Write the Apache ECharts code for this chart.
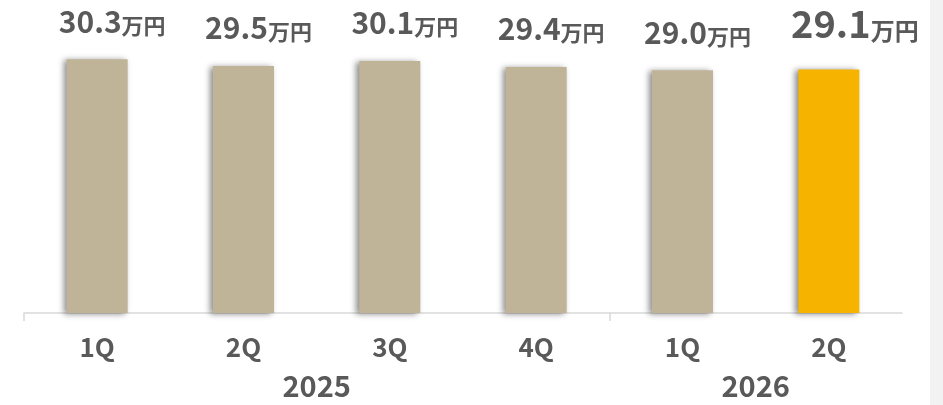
<!DOCTYPE html>
<html>
<head>
<meta charset="utf-8">
<script src="https://cdn.jsdelivr.net/npm/echarts@6/dist/echarts.min.js"></script>
<style>
  html, body { margin: 0; padding: 0; background: #fff; }
  #mainChart { width: 943px; height: 405px; }
</style>
</head>
<body>
<div id="mainChart"></div>
<script type="text/javascript">
// 四半期ごとの値（万円）
var categories = ['1Q', '2Q', '3Q', '4Q', '1Q', '2Q'];
var values = [30.3, 29.5, 30.1, 29.4, 29.0, 29.1];
var years = ['2025', '2026'];
var yearSpans = [4, 2];   // 各年の四半期数
var unit = '万円';
var highlightIndex = 5;   // 最新の四半期

var FONT = "'Noto Sans CJK JP', 'Noto Sans', sans-serif";
var TEXT = '#595959';

// 年ラベルの位置（各年の中央）と区切り線の位置
var yearCenters = {};
var boundaries = [0];
var acc = 0;
for (var i = 0; i < years.length; i++) {
    yearCenters[acc + yearSpans[i] / 2] = years[i];
    acc += yearSpans[i];
    if (i < years.length - 1) boundaries.push(acc);
}

var barData = values.map(function (v, i) {
    var item = { value: v };
    if (i === highlightIndex) {
        item.itemStyle = { color: '#F6B400' };
        item.label = {
            offset: [26, -4],
            formatter: function (p) { return '{nb|' + p.value.toFixed(1) + '}{ub|' + unit + '}'; }
        };
    }
    return item;
});

var myChart = echarts.init(document.getElementById('mainChart'));
var options = {
    animation: false,
    textStyle: { fontFamily: FONT },
    graphic: [{
        type: 'rect',
        right: 0, top: 0,
        shape: { width: 13, height: 405 },
        style: { fill: '#F2F2F2' },
        silent: true
    }],
    grid: { left: 24, right: 41, top: 20, bottom: 92 },
    xAxis: [{
        type: 'category',
        data: categories,
        axisLine: { lineStyle: { color: '#D9D9D9', width: 1.5 } },
        axisTick: { show: false },
        axisLabel: {
            color: TEXT, fontSize: 26, fontWeight: 'bold', fontFamily: FONT, margin: 21
        }
    }, {
        type: 'value',
        position: 'bottom',
        min: 0, max: acc, interval: 1,
        axisLine: { show: false },
        axisTick: {
            show: true,
            length: 8,
            customValues: boundaries,
            lineStyle: { color: '#D9D9D9', width: 1.5 }
        },
        splitLine: { show: false },
        axisLabel: {
            color: TEXT, fontSize: 29, fontWeight: 'bold', fontFamily: FONT, margin: 58,
            showMinLabel: true, showMaxLabel: true,
            formatter: function (v) { return yearCenters[v] || ''; }
        }
    }],
    yAxis: {
        type: 'value', min: 0, max: 35, show: false
    },
    series: [{
        type: 'bar',
        xAxisIndex: 0,
        data: barData,
        barWidth: 61,
        itemStyle: {
            color: '#BFB497',
            shadowColor: 'rgba(0,0,0,0.45)',
            shadowBlur: 6,
            shadowOffsetX: -3,
            shadowOffsetY: 1
        },
        label: {
            show: true,
            position: 'top',
            distance: 23,
            offset: [15, 0],
            color: TEXT,
            fontFamily: FONT,
            formatter: function (p) { return '{n|' + p.value.toFixed(1) + '}{u|' + unit + '}'; },
            rich: {
                n: { fontSize: 30, fontWeight: 'bold', color: TEXT, fontFamily: FONT, lineHeight: 30, verticalAlign: 'bottom' },
                u: { fontSize: 22, fontWeight: 'bold', color: TEXT, fontFamily: FONT, lineHeight: 25, verticalAlign: 'bottom' },
                nb: { fontSize: 38, fontWeight: 'bold', color: TEXT, fontFamily: FONT, lineHeight: 38, verticalAlign: 'bottom' },
                ub: { fontSize: 24, fontWeight: 'bold', color: TEXT, fontFamily: FONT, lineHeight: 31, verticalAlign: 'bottom' }
            }
        }
    }]
};
myChart.setOption(options);
</script>
</body>
</html>
